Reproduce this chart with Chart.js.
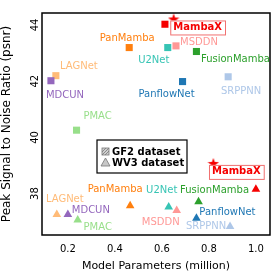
<!DOCTYPE html>
<html>
<head>
<script src="https://cdn.jsdelivr.net/npm/chart.js@4.4.1/dist/chart.umd.min.js"></script>
<style>
  html, body { margin: 0; padding: 0; background: #fff; }
  #wrap { width: 277px; height: 277px; }
</style>
</head>
<body>
<div id="wrap"><canvas id="myChart" width="277" height="277"></canvas></div>
<script>
// methods and their colours
const methods = ['MambaX', 'PanMamba', 'U2Net', 'MSDDN', 'FusionMamba', 'PanflowNet', 'SRPPNN', 'LAGNet', 'MDCUN', 'PMAC'];
const colors = ['#f50000', '#ff7f0e', '#36c4b4', '#ff9896', '#2ca02c', '#1f77b4', '#aec7e8', '#ffbb78', '#9467bd', '#98df8a'];

// GF2 dataset (squares)
const gf2Params = [0.613, 0.461, 0.625, 0.66, 0.747, 0.688, 0.882, 0.149, 0.128, 0.237];
const gf2Psnr = [43.8, 42.97, 42.97, 43.03, 42.83, 41.76, 41.93, 41.97, 41.79, 40.03];

// WV3 dataset (triangles)
const wv3Params = [1.0, 0.465, 0.629, 0.663, 0.756, 0.747, 0.89, 0.153, 0.2, 0.242];
const wv3Psnr = [37.93, 37.34, 37.3, 37.17, 37.48, 36.9, 36.6, 37.03, 37.03, 36.83];

// star highlights for MambaX
const starParams = [0.65, 0.819];
const starPsnr = [43.97, 38.83];

const xTicks = [0.2, 0.4, 0.6, 0.8, 1.0];
const yTicks = [38, 40, 42, 44];

// label offsets in px (text centre relative to the marker)
const gf2LabelOff = [[24, 8], [-2, -9], [-14, 13], [23, -3], [39, 8], [-16, 13], [13, 15], [23, -9], [14, 15], [21, -14]];
const wv3LabelOff = [[23, 8], [-15, -16], [-7, -16], [-16, 12], [16, -11], [31, -6], [-24, 0], [8, -15], [23, -4], [20, 7]];

const FONT = '"DejaVu Sans", sans-serif';

// filled 5-point star used as point style
function makeStar(color, size) {
  const c = document.createElement('canvas');
  c.width = size; c.height = size;
  const g = c.getContext('2d');
  const cx = size / 2, cy = size / 2, R = size / 2, r = R * 0.4;
  g.beginPath();
  for (let i = 0; i < 10; i++) {
    const a = -Math.PI / 2 + i * Math.PI / 5;
    const rr = i % 2 === 0 ? R : r;
    g.lineTo(cx + rr * Math.cos(a), cy + rr * Math.sin(a));
  }
  g.closePath();
  g.fillStyle = color;
  g.fill();
  return c;
}
const starImg = makeStar('#f50000', 12);

const labelPlugin = {
  id: 'labels',
  afterDatasetsDraw(chart) {
    const ctx = chart.ctx;
    const xs = chart.scales.x, ys = chart.scales.y;
    const a = chart.chartArea;
    ctx.save();
    // frame
    ctx.strokeStyle = '#000';
    ctx.lineWidth = 1.5;
    ctx.strokeRect(a.left, a.top, a.right - a.left, a.bottom - a.top);

    ctx.textAlign = 'center';
    ctx.textBaseline = 'middle';
    function drawLabels(px, py, offs, starIdx) {
      for (let i = 0; i < methods.length; i++) {
        let x0, y0;
        if (i === 0) {
          x0 = xs.getPixelForValue(starParams[starIdx]);
          y0 = ys.getPixelForValue(starPsnr[starIdx]);
        } else {
          x0 = xs.getPixelForValue(px[i]);
          y0 = ys.getPixelForValue(py[i]);
        }
        const tx = x0 + offs[i][0], ty = y0 + offs[i][1];
        ctx.font = (i === 0 ? 'bold ' : '') + '10px ' + FONT;
        ctx.fillStyle = colors[i];
        if (i === 0) {
          const w = ctx.measureText(methods[i]).width + 6;
          ctx.fillStyle = '#fff';
          ctx.fillRect(tx - w / 2, ty - 7, w, 14);
          ctx.strokeStyle = '#f07070';
          ctx.lineWidth = 1;
          ctx.strokeRect(tx - w / 2 + 0.5, ty - 7 + 0.5, w, 14);
          ctx.fillStyle = colors[i];
        }
        ctx.fillText(methods[i], tx, ty);
      }
    }
    drawLabels(gf2Params, gf2Psnr, gf2LabelOff, 0);
    drawLabels(wv3Params, wv3Psnr, wv3LabelOff, 1);

    // legend box
    const lx = a.left + 55, ly = a.top + 127;
    ctx.fillStyle = '#fff';
    ctx.fillRect(lx, ly, 90, 33);
    ctx.strokeStyle = '#000';
    ctx.lineWidth = 1.2;
    ctx.strokeRect(lx, ly, 90, 33);
    // hatched square
    ctx.fillStyle = '#d0d0d0';
    ctx.fillRect(lx + 5, ly + 8, 7, 7);
    ctx.strokeStyle = '#777';
    ctx.lineWidth = 0.8;
    ctx.strokeRect(lx + 5, ly + 8, 7, 7);
    ctx.beginPath();
    ctx.moveTo(lx + 5, ly + 12); ctx.lineTo(lx + 9, ly + 8);
    ctx.moveTo(lx + 5, ly + 15); ctx.lineTo(lx + 12, ly + 8);
    ctx.moveTo(lx + 8, ly + 15); ctx.lineTo(lx + 12, ly + 11);
    ctx.stroke();
    // triangle
    ctx.fillStyle = '#c8c8c8';
    ctx.beginPath();
    ctx.moveTo(lx + 8.5, ly + 18); ctx.lineTo(lx + 13, ly + 26); ctx.lineTo(lx + 4, ly + 26);
    ctx.closePath();
    ctx.fill();
    ctx.stroke();
    ctx.fillStyle = '#000';
    ctx.font = 'bold 10px ' + FONT;
    ctx.textAlign = 'left';
    ctx.fillText('GF2 dataset', lx + 15, ly + 12);
    ctx.fillText('WV3 dataset', lx + 15, ly + 23);
    ctx.restore();
  }
};

const gf2Data = gf2Params.map((v, i) => ({ x: v, y: gf2Psnr[i] }));
const wv3Data = wv3Params.map((v, i) => ({ x: v, y: wv3Psnr[i] }));
const starData = starParams.map((v, i) => ({ x: v, y: starPsnr[i] }));

new Chart(document.getElementById('myChart'), {
  type: 'scatter',
  data: {
    datasets: [
      {
        label: 'GF2 dataset',
        data: gf2Data,
        pointStyle: 'rect',
        pointRadius: 5,
        backgroundColor: colors,
        borderWidth: 0
      },
      {
        label: 'WV3 dataset',
        data: wv3Data,
        pointStyle: 'triangle',
        pointRadius: 5,
        backgroundColor: colors,
        borderWidth: 0
      },
      {
        label: 'MambaX',
        data: starData,
        pointStyle: starImg,
        pointRadius: 6
      }
    ]
  },
  options: {
    responsive: false,
    animation: false,
    layout: { padding: { top: 6, right: 5, left: 0, bottom: 0 } },
    plugins: { legend: { display: false }, tooltip: { enabled: false } },
    scales: {
      x: {
        type: 'linear',
        min: 0.09,
        max: 1.06,
        afterBuildTicks(s) { s.ticks = xTicks.map(v => ({ value: v })); },
        afterFit(s) { s.height = 42; },
        grid: { display: false, drawTicks: false },
        border: { display: false },
        ticks: {
          color: '#000',
          padding: 8,
          font: { family: FONT, size: 10 },
          callback: v => v.toFixed(1)
        },
        title: {
          display: true,
          text: 'Model Parameters (million)',
          color: '#000',
          font: { family: FONT, size: 11 },
          padding: { top: 4 }
        }
      },
      y: {
        type: 'linear',
        min: 36.3,
        max: 44.2,
        afterBuildTicks(s) { s.ticks = yTicks.map(v => ({ value: v })); },
        afterFit(s) { s.width = 42; },
        grid: { display: false, drawTicks: false },
        border: { display: false },
        ticks: {
          color: '#000',
          padding: 7,
          minRotation: 90,
          maxRotation: 90,
          font: { family: FONT, size: 10 }
        },
        title: {
          display: true,
          text: 'Peak Signal to Noise Ratio (psnr)',
          color: '#000',
          font: { family: FONT, size: 12 },
          padding: { top: 0, bottom: 0 }
        }
      }
    }
  },
  plugins: [labelPlugin]
});
</script>
</body>
</html>
